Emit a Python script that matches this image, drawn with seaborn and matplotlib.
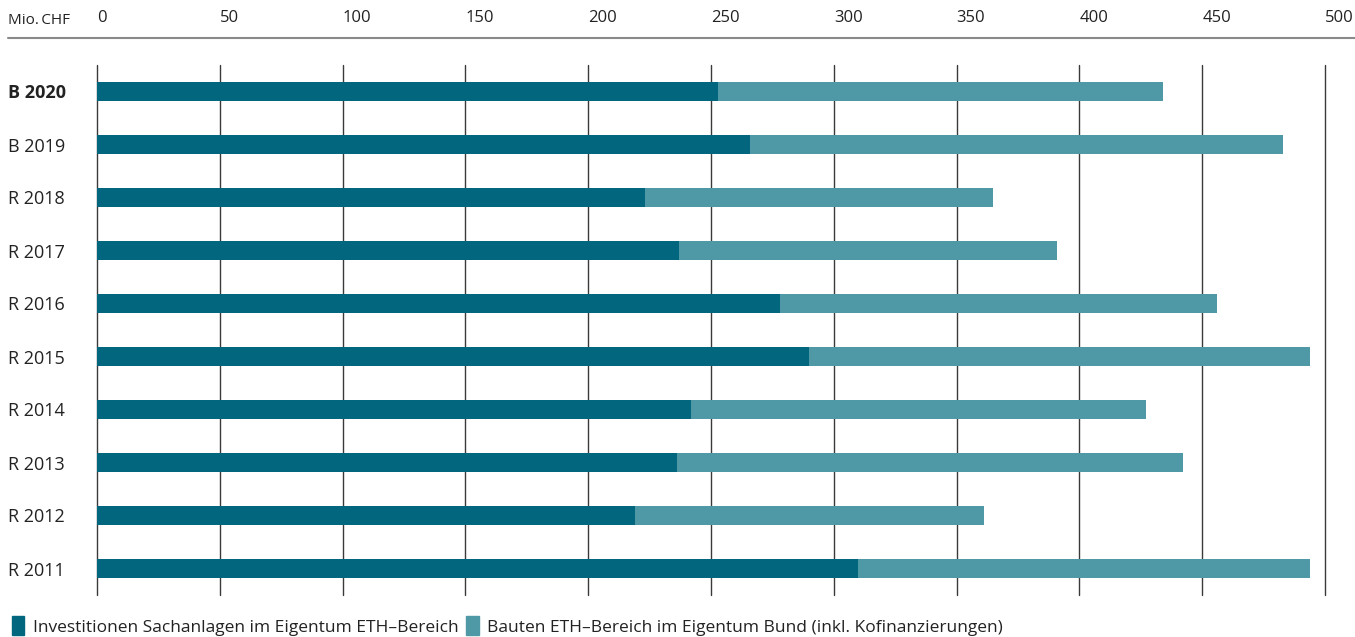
import matplotlib
matplotlib.use("Agg")
import matplotlib.pyplot as plt
import matplotlib.patches as mpatches
from matplotlib.lines import Line2D
import seaborn as sns
import pandas as pd

categories = ["B 2020", "B 2019", "R 2018", "R 2017", "R 2016",
              "R 2015", "R 2014", "R 2013", "R 2012", "R 2011"]
sachanlagen = [253, 266, 223, 237, 278, 290, 242, 236, 219, 310]
bauten = [181, 217, 142, 154, 178, 204, 185, 206, 142, 184]
xticks = [0, 50, 100, 150, 200, 250, 300, 350, 400, 450, 500]
series_names = ["Investitionen Sachanlagen im Eigentum ETH\u2013Bereich",
                "Bauten ETH\u2013Bereich im Eigentum Bund (inkl. Kofinanzierungen)"]
unit_label = "Mio.\u2009CHF"

DARK = "#02667F"
LIGHT = "#4F98A5"
TXT = "#222222"

sns.set_theme(style="white")
plt.rcParams["font.family"] = ["Open Sans", "DejaVu Sans"]

df = pd.DataFrame({"cat": categories,
                   "dark": sachanlagen,
                   "total": [a + b for a, b in zip(sachanlagen, bauten)]})

fig = plt.figure(figsize=(13.55, 6.37), dpi=100)
W, H = 1355, 637
ax = fig.add_axes([97 / W, 1 - 595 / H, (1325 - 97) / W, (595 - 65) / H])

sns.barplot(data=df, y="cat", x="total", color=LIGHT, width=0.34,
            orient="h", ax=ax, saturation=1, linewidth=0, zorder=3)
sns.barplot(data=df, y="cat", x="dark", color=DARK, width=0.34,
            orient="h", ax=ax, saturation=1, linewidth=0, zorder=4)

ax.set_xlim(0, 500)
ax.set_ylim(9.5, -0.5)
ax.set_xlabel("")
ax.set_ylabel("")
for s in ax.spines.values():
    s.set_visible(False)

ax.set_xticks(xticks)
ax.grid(axis="x", color="#3a3a3a", linewidth=1.0, zorder=1)
ax.set_axisbelow(True)
for gl in ax.get_xgridlines():
    gl.set_clip_on(False)
ax.xaxis.tick_top()
ax.tick_params(axis="x", length=0, pad=28, labelsize=12, labelcolor=TXT)
for lab in ax.get_xticklabels():
    lab.set_horizontalalignment("left")

ax.tick_params(axis="y", length=0, pad=64, labelsize=13, labelcolor=TXT)
for lab in ax.get_yticklabels():
    lab.set_horizontalalignment("left")
    if lab.get_text() == "B 2020":
        lab.set_fontweight("bold")

fig.text(8 / W, 1 - 20 / H, unit_label, fontsize=11, color=TXT,
         ha="left", va="center")
fig.add_artist(Line2D([8 / W, 1], [1 - 38 / H, 1 - 38 / H],
                      color="#8a8a8a", linewidth=1.5,
                      transform=fig.transFigure))

handles = [mpatches.Patch(color=DARK, label=series_names[0]),
           mpatches.Patch(color=LIGHT, label=series_names[1])]
fig.legend(handles=handles, loc="lower left", bbox_to_anchor=(0.0, -0.017),
           ncol=2, frameon=False, fontsize=12.5, handlelength=0.7,
           handleheight=1.3, handletextpad=0.5, columnspacing=0.45,
           borderaxespad=0.3, labelcolor=TXT)

fig.savefig("out.png", dpi=100)
